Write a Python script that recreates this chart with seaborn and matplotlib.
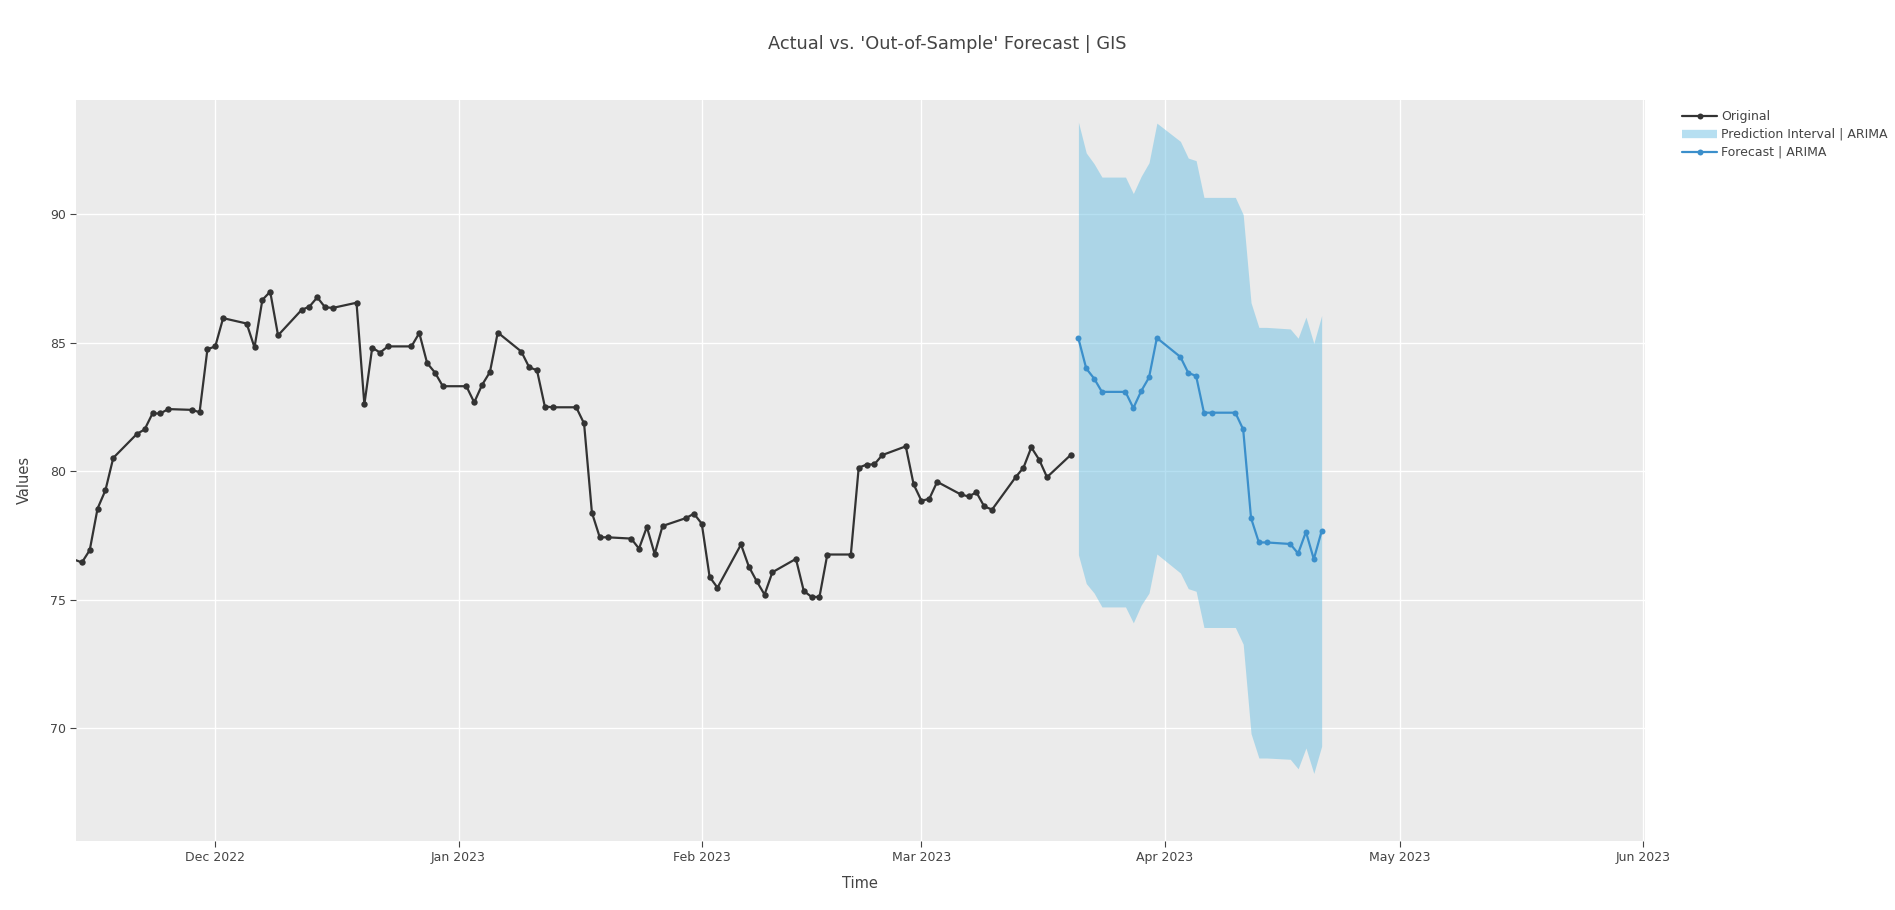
import pandas as pd
import matplotlib
matplotlib.use("Agg")
import matplotlib.pyplot as plt
import matplotlib.dates as mdates
from matplotlib.lines import Line2D
import seaborn as sns

# Actual closing prices (business days, holidays forward-filled)
orig_start = "2022-11-11"
orig_end = "2023-03-20"
orig_values = [
    76.80,
    76.45, 76.93, 78.55, 79.26, 80.52,
    81.45, 81.63, 82.25, 82.25, 82.42,
    82.39, 82.30, 84.75, 84.86, 85.96,
    85.75, 84.82, 86.67, 86.99, 85.29,
    86.28, 86.41, 86.77, 86.38, 86.36,
    86.56, 82.60, 84.81, 84.62, 84.86,
    84.86, 85.38, 84.21, 83.84, 83.31,
    83.31, 82.68, 83.36, 83.86, 85.40,
    84.66, 84.05, 83.93, 82.52, 82.49,
    82.49, 81.86, 78.39, 77.43, 77.43,
    77.38, 76.99, 77.83, 76.78, 77.87,
    78.18, 78.35, 77.96, 75.89, 75.47,
    77.15, 76.29, 75.72, 75.20, 76.07,
    76.59, 75.34, 75.11, 75.11, 76.76,
    76.76, 80.14, 80.26, 80.27, 80.63,
    80.97, 79.49, 78.85, 78.93, 79.59,
    79.10, 79.02, 79.18, 78.63, 78.51,
    79.77, 80.14, 80.93, 80.45, 79.77,
    80.63,
]

# ARIMA out-of-sample forecast with prediction interval
fc_start = "2023-03-21"
fc_end = "2023-04-21"
fc_values = [85.17, 84.00, 83.61, 83.09, 83.09, 82.46, 83.12, 83.65, 85.19,
             84.45, 83.83, 83.71, 82.28, 82.28, 82.28, 81.63, 78.18, 77.23,
             77.23, 77.17, 76.80, 77.64, 76.58, 77.67]
fc_upper = [93.59, 92.39, 91.97, 91.45, 91.45, 90.81, 91.48, 92.01, 93.55,
            92.84, 92.19, 92.09, 90.66, 90.66, 90.66, 89.99, 86.56, 85.60,
            85.60, 85.54, 85.18, 86.00, 84.98, 86.06]
fc_lower = [76.75, 75.63, 75.26, 74.72, 74.72, 74.10, 74.79, 75.26, 76.78,
            76.04, 75.43, 75.33, 73.92, 73.92, 73.92, 73.27, 69.79, 68.84,
            68.84, 68.79, 68.42, 69.23, 68.24, 69.30]

df_orig = pd.DataFrame({"Time": pd.bdate_range(orig_start, orig_end), "Values": orig_values})
df_fc = pd.DataFrame({"Time": pd.bdate_range(fc_start, fc_end), "Values": fc_values,
                      "Upper": fc_upper, "Lower": fc_lower})

sns.set_style("darkgrid", {"axes.facecolor": "#ebebeb", "grid.color": "white"})
plt.rcParams["font.family"] = ["DejaVu Sans"]

text_col = "#444444"
orig_col = "#333333"
fc_col = "#3b8fcb"
band_col = (110 / 255, 193 / 255, 228 / 255)

fig = plt.figure(figsize=(18.95, 9.10), dpi=100)
ax = fig.add_axes([76 / 1895, 69 / 910, 1569 / 1895, 741 / 910])

ax.fill_between(df_fc["Time"], df_fc["Lower"], df_fc["Upper"], color=band_col,
                alpha=0.5, linewidth=0, zorder=2)
sns.lineplot(data=df_orig, x="Time", y="Values", ax=ax, color=orig_col, linewidth=1.6,
             marker="o", markersize=4.6, markeredgewidth=0, zorder=3)
sns.lineplot(data=df_fc, x="Time", y="Values", ax=ax, color=fc_col, linewidth=1.6,
             marker="o", markersize=4.3, markeredgewidth=0, zorder=4)

ax.set_xlim(pd.Timestamp("2022-11-13 06:00"), pd.Timestamp("2023-06-01 05:00"))
ax.set_ylim(65.61, 94.45)
ax.set_yticks([70, 75, 80, 85, 90])
ax.xaxis.set_major_locator(mdates.MonthLocator())
ax.xaxis.set_major_formatter(mdates.DateFormatter("%b %Y"))
ax.grid(True, color="white", linewidth=1.0)
ax.tick_params(axis="both", which="major", direction="out", length=4, width=0.8,
               colors=text_col, labelsize=9, pad=3, bottom=True, left=True)
for s in ax.spines.values():
    s.set_visible(False)
ax.set_xlabel("")
ax.set_ylabel("")

fig.text(860 / 1895, 1 - 883 / 910, "Time", ha="center", va="center",
         fontsize=10.5, color=text_col)
fig.text(24 / 1895, 1 - 480 / 910, "Values", ha="center", va="center",
         rotation=90, fontsize=10.5, color=text_col)
fig.text(0.5, 1 - 44 / 910, "Actual vs. 'Out-of-Sample' Forecast | GIS", ha="center",
         va="center", fontsize=12.8, color=text_col)

handles = [
    Line2D([], [], color=orig_col, linewidth=1.6, marker="o", markersize=4.3,
           markeredgewidth=0),
    Line2D([], [], color=band_col, alpha=0.5, linewidth=6, solid_capstyle="butt"),
    Line2D([], [], color=fc_col, linewidth=1.6, marker="o", markersize=4.3,
           markeredgewidth=0),
]
labels = ["Original", "Prediction Interval | ARIMA", "Forecast | ARIMA"]
fig.legend(handles, labels, loc="upper left", bbox_to_anchor=(1682 / 1895, 1 - 110 / 910),
           frameon=False, fontsize=9, handlelength=2.8, handletextpad=0.3,
           labelspacing=0.4, borderpad=0, borderaxespad=0, labelcolor=text_col)

fig.savefig("out.png", dpi=100)
